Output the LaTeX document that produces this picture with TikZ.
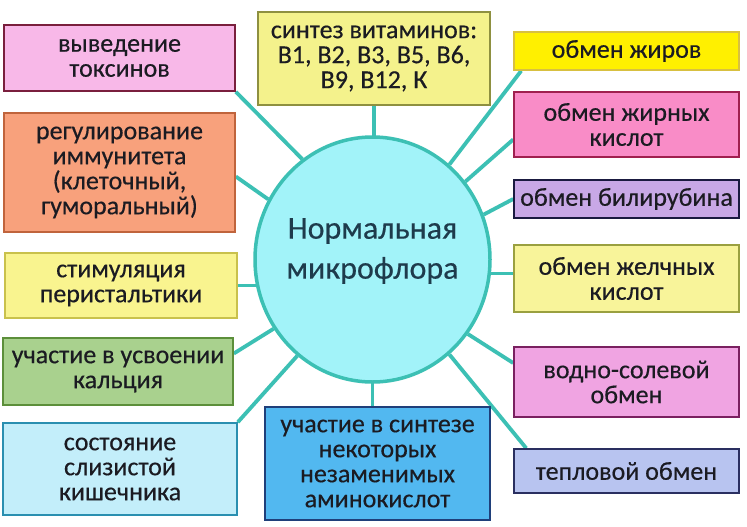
\documentclass[tikz,border=0pt]{standalone}
\usepackage{fontspec}
\setmainfont{Carlito}
\newfontfamily\boxfont[FakeBold=0.4]{Carlito}
\usetikzlibrary{shapes.geometric,backgrounds}
\definecolor{linec}{HTML}{3CC0B4}
\definecolor{circfill}{HTML}{A2F3F9}
\definecolor{txt}{HTML}{1B1B22}
\definecolor{ctxt}{HTML}{1E3B4C}
\definecolor{fa}{HTML}{F8B8E8}\definecolor{da}{HTML}{7A1F3D}
\definecolor{fb}{HTML}{F8A17C}\definecolor{db}{HTML}{C0643C}
\definecolor{fc}{HTML}{F9F48F}\definecolor{dc}{HTML}{C9C14C}
\definecolor{fd}{HTML}{A9D18E}\definecolor{dd}{HTML}{5C8F3A}
\definecolor{fe}{HTML}{C3EEFA}\definecolor{de}{HTML}{2A8FB0}
\definecolor{ff}{HTML}{F4F28C}\definecolor{df}{HTML}{8E9040}
\definecolor{fg}{HTML}{FFF000}\definecolor{dg}{HTML}{D8C040}
\definecolor{fh}{HTML}{F98CC7}\definecolor{dh}{HTML}{A0204F}
\definecolor{fi}{HTML}{C8A8E6}\definecolor{di}{HTML}{1A1A40}
\definecolor{fj}{HTML}{F8F49A}\definecolor{dj}{HTML}{9AA040}
\definecolor{fk}{HTML}{F0A4E2}\definecolor{dk}{HTML}{7A2060}
\definecolor{fl}{HTML}{B8C4F0}\definecolor{dl}{HTML}{2A2F60}
\definecolor{fm}{HTML}{52B8F0}\definecolor{dm}{HTML}{1F3F7A}
\tikzset{
  box/.style={draw, line width=1.6pt, inner sep=0pt, align=center, text=txt,
    font=\boxfont\fontsize{26}{25}\selectfont},
  conn/.style={draw=linec, line width=3.8pt},
}
\begin{document}
\begin{tikzpicture}[x=1pt,y=-1pt]
\useasboundingbox (0,0) rectangle (747,527);
% boxes
\node[box, fill=fa, draw=da, minimum width=231, minimum height=66] (b1) at (119.5,58) {выведение\\токсинов};
\node[box, fill=fb, draw=db, minimum width=231, minimum height=119] (b2) at (119.5,172.5) {регулирование\\иммунитета\\(клеточный,\\гуморальный)};
\node[box, fill=fc, draw=dc, minimum width=232, minimum height=65] (b3) at (121,285.5) {стимуляция\\перистальтики};
\node[box, fill=fd, draw=dd, minimum width=230, minimum height=67] (b4) at (118,371.5) {участие в усвоении\\кальция};
\node[box, fill=fe, draw=de, minimum width=234, minimum height=92] (b5) at (120,469) {состояние\\слизистой\\кишечника};
\node[box, fill=ff, draw=df, minimum width=232, minimum height=93] (b6) at (374,58.5) {синтез витаминов:\\В1, В2, В3, В5, В6,\\В9, В12, К};
\node[box, fill=fg, draw=dg, minimum width=225, minimum height=38] (b7) at (626.5,51) {обмен жиров};
\node[box, fill=fh, draw=dh, minimum width=225, minimum height=65] (b8) at (626.5,124.5) {обмен жирных\\кислот};
\node[box, fill=fi, draw=di, minimum width=225, minimum height=38] (b9) at (626.5,199) {обмен билирубина};
\node[box, fill=fj, draw=dj, minimum width=225, minimum height=67] (b10) at (626.5,278.5) {обмен желчных\\кислот};
\node[box, fill=fk, draw=dk, minimum width=225, minimum height=70] (b11) at (626.5,382) {водно-солевой\\обмен};
\node[box, fill=fl, draw=dl, minimum width=225, minimum height=44] (b12) at (626.5,471) {тепловой обмен};
\node[box, fill=fm, draw=dm, minimum width=225, minimum height=113] (b13) at (377.5,463.5) {участие в синтезе\\некоторых\\незаменимых\\аминокислот};
% centre
\node[ellipse, draw=linec, line width=3.5pt, fill=circfill, minimum width=235, minimum height=245, inner sep=0pt] (c) at (372.5,259.5) {};
\node[align=center, text=ctxt, inner sep=0pt, font=\boxfont\fontsize{32}{40}\selectfont] (ct) at (372.5,251) {Нормальная\\микрофлора};
\coordinate (p10) at ([yshift=5pt]b10.west);
\begin{scope}[on background layer]
\fill[white] (0,0) rectangle (747,527);
\draw[conn] (b1.south east) -- (c.125);
\draw[conn] ([yshift=-4pt]b2.east) -- (c.150);
\draw[conn] (b3.east) -- (b3.east -| c.center);
\draw[conn] ([yshift=18pt]b4.east) -- (c.215);
\draw[conn] (b5.north east) -- (c.232);
\draw[conn] (b6.south) -- (b6.south |- c.center);
\draw[conn] (c.center) -- (c.center |- b13.north);
\draw[conn] ([xshift=8pt]b7.south west) -- (c.51);
\draw[conn] ([yshift=-15pt]b8.west) -- (c.40);
\draw[conn] (b9.west) -- (c.22);
\draw[conn] (p10) -- (p10 -| c.center);
\draw[conn] ([yshift=19pt]b11.west) -- (c.-38);
\draw[conn] ([xshift=13pt]b12.north west) -- (c.-51);
\end{scope}
\end{tikzpicture}
\end{document}
